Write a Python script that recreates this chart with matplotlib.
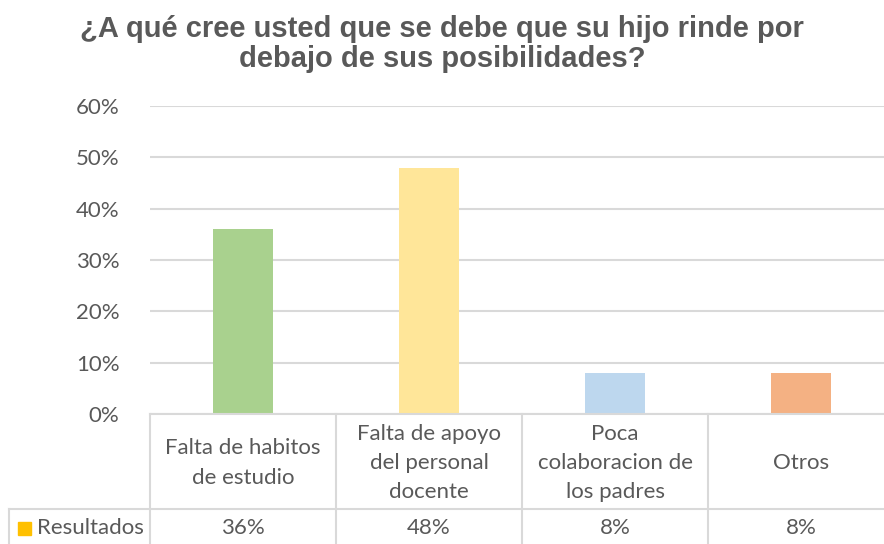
import matplotlib.pyplot as plt
from matplotlib.patches import Rectangle

# datos
categorias = ["Falta de habitos\nde estudio", "Falta de apoyo\ndel personal\ndocente",
              "Poca\ncolaboracion de\nlos padres", "Otros"]
valores = [0.36, 0.48, 0.08, 0.08]
etiquetas = ["36%", "48%", "8%", "8%"]
colores = ["#A9D18E", "#FFE699", "#BDD7EE", "#F4B183"]
serie = "Resultados"
titulo = "¿A qué cree usted que se debe que su hijo rinde por\ndebajo de sus posibilidades?"

gris = "#595959"
linea = "#D9D9D9"
W, H = 884, 544
fs = 16

fig = plt.figure(figsize=(W/100, H/100), dpi=100)

# area del grafico (en pixeles: x 150..894, y 106..414)
x0, x1 = 150, 894
ytop, ybase = 106, 414
ax = fig.add_axes([x0/W, (H-ybase)/H, (x1-x0)/W, (ybase-ytop)/H])
xs = range(len(valores))
ax.bar(xs, valores, width=0.32, color=colores, zorder=3)
ax.set_xlim(-0.5, len(valores)-0.5)
ax.set_ylim(0, 0.6)
ticks = [0, 0.1, 0.2, 0.3, 0.4, 0.5, 0.6]
ax.set_yticks(ticks)
ax.set_yticklabels([f"{int(round(t*100))}%" for t in ticks], fontfamily="Lato",
                   fontsize=fs, color=gris)
ax.tick_params(axis="y", length=0, pad=22)
ax.tick_params(axis="x", length=0, labelbottom=False)
ax.grid(axis="y", color=linea, linewidth=1.5, zorder=0)
for s in ax.spines.values():
    s.set_visible(False)

# tabla de datos debajo
tax = fig.add_axes([x0/W, 0, (x1-x0)/W, (H-ybase)/H])
tax.set_xlim(-0.5, len(valores)-0.5)
tax.set_ylim(0, H-ybase)
tax.axis("off")
cw = (x1-x0)/len(valores)
xleft = -0.5 - (x0-9)/cw
ydiv = H-509
lkw = dict(color=linea, linewidth=1.5, clip_on=False)
tax.plot([-0.5, len(valores)-0.5], [H-ybase, H-ybase], **lkw)
tax.plot([xleft, len(valores)-0.5], [ydiv, ydiv], **lkw)
tax.plot([xleft, xleft], [0, ydiv], **lkw)
for i in range(len(valores)+1):
    tax.plot([i-0.5, i-0.5], [0, H-ybase], **lkw)
for i, (c, e) in enumerate(zip(categorias, etiquetas)):
    tax.text(i, (ydiv + H-ybase)/2 - 1.5, c, ha="center", va="center", fontfamily="Lato",
             fontsize=fs, color=gris, linespacing=1.58)
    tax.text(i, ydiv/2 - 1, e, ha="center", va="center", fontfamily="Lato",
             fontsize=fs, color=gris)

# leyenda de la fila
tax.text(-0.5 - (x0-37)/cw, ydiv/2 - 1, serie, ha="left", va="center", fontfamily="Lato",
         fontsize=fs, color=gris)
fig.patches.append(Rectangle((18/W, (H-535)/H), 13/W, 13/H, transform=fig.transFigure,
                             color="#FFC000"))

fig.text(442/W, 1-44/H, titulo, ha="center", va="center", fontfamily="Liberation Sans",
         fontweight="bold", fontsize=21, color=gris, linespacing=1.1)

fig.savefig("out.png", dpi=100)
